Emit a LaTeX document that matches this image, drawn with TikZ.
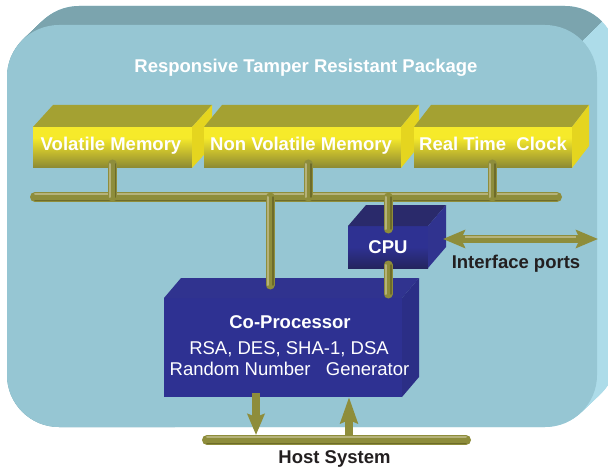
\documentclass[tikz,border=0pt]{standalone}
\usepackage{fontspec}
\setmainfont{Liberation Sans}
\usetikzlibrary{arrows.meta}
\definecolor{pkgfront}{HTML}{96C6D3}
\definecolor{pkgtop}{HTML}{7BA4AE}
\definecolor{pkgside}{HTML}{ADDCE9}
\definecolor{ybright}{HTML}{F6EA2A}
\definecolor{ymid}{HTML}{BDB42E}
\definecolor{yolive}{HTML}{8A8834}
\definecolor{ytop}{HTML}{A4A132}
\definecolor{yside}{HTML}{E5D51F}
\definecolor{bfront}{HTML}{2E3192}
\definecolor{bdark}{HTML}{24255F}
\definecolor{bcputop}{HTML}{2A2A6B}
\definecolor{bcpuside}{HTML}{30338F}
\definecolor{bcoptop}{HTML}{30338F}
\definecolor{bcopside}{HTML}{2B2E86}
\definecolor{barc}{HTML}{8E8D3B}
\definecolor{barhi}{HTML}{B5B27A}
\definecolor{bardk}{HTML}{6E6C2A}
\definecolor{txtdark}{HTML}{231F20}
\pgfdeclareverticalshading{yfront}{100bp}{color(0bp)=(yolive); color(25bp)=(yolive); color(42bp)=(ymid); color(62bp)=(ybright); color(100bp)=(ybright)}
\pgfdeclareverticalshading{cpufront}{100bp}{color(0bp)=(bdark); color(25bp)=(bdark); color(50bp)=(bfront); color(100bp)=(bfront)}
\tikzset{
  lbl/.style={text=white, font=\bfseries\fontsize{18.5}{22}\selectfont, inner sep=0pt, anchor=base},
  dlbl/.style={lbl, text=txtdark},
  rlbl/.style={lbl, font=\fontsize{18.5}{22}\selectfont},
  facebox/.style={inner sep=0pt, outer sep=0pt, draw=none},
  ybox/.style={facebox, shading=yfront},
  hbar/.style={draw=barc, line width=10pt, line cap=round,
    postaction={draw=bardk, line width=1.5pt, transform canvas={yshift=-3.6pt}},
    postaction={draw=barhi, line width=2pt, transform canvas={yshift=3pt}}},
  vbar/.style={draw=barc, line width=9pt, line cap=round,
    postaction={draw=bardk, line width=1.5pt, transform canvas={xshift=3.2pt}},
    postaction={draw=barhi, line width=2pt, transform canvas={xshift=-2.5pt}}},
  arrowbar/.style={draw=barc, line width=8pt},
}
\newcommand\threedfaces[5]{%
  \fill[#4] (#1.north west) -- ++(#2,-#3) -- ([shift={(#2,-#3)}]#1.north east) -- (#1.north east) -- cycle;
  \fill[#5] (#1.north east) -- ++(#2,-#3) -- ([shift={(#2,-#3)}]#1.south east) -- (#1.south east) -- cycle;}
\begin{document}
\begin{tikzpicture}[x=1pt,y=-1pt]
\useasboundingbox (0,0) rectangle (608,468);
\clip (0,0) rectangle (608,468);
\fill[white] (0,0) rectangle (608,468);
% package
\foreach \t in {0,...,20} \fill[pkgside, rounded corners=52pt] (7+\t, 25-0.95*\t) rectangle (597+\t, 427-0.95*\t);
\begin{scope}
  \clip (-10,-10) -- (635,-10) -- (77,520) -- (-10,520) -- cycle;
  \foreach \t in {0,...,20} \fill[pkgtop, rounded corners=52pt] (7+\t, 25-0.95*\t) rectangle (597+\t, 427-0.95*\t);
\end{scope}
\fill[pkgfront, rounded corners=52pt] (7,25) rectangle (597,427);
\node[lbl] (title) at (306,73) {Responsive Tamper Resistant Package};
% memory boxes
\node[ybox, minimum width=159pt, minimum height=41pt] (vm) at (112.5,147.5) {};
\threedfaces{vm}{20}{22}{ytop}{yside}
\node[ybox, minimum width=197pt, minimum height=41pt] (nvm) at (302.5,147.5) {};
\threedfaces{nvm}{18}{22}{ytop}{yside}
\node[ybox, minimum width=158pt, minimum height=41pt] (rtc) at (493,147.5) {};
\threedfaces{rtc}{17}{22}{ytop}{yside}
\node[lbl] (vmt) at (111,151) {Volatile Memory};
\node[lbl] (nvmt) at (301,151) {Non Volatile Memory};
\node[lbl] (rtct) at (493,151) {Real Time\ \ Clock};
% bus
\coordinate (busL) at (35,197);
\coordinate (busR) at (557,197);
\draw[hbar] (busL) -- (busR);
\draw[vbar] ([yshift=4pt]vm.south) -- (vm.south |- busL);
\draw[vbar] ([xshift=5.5pt,yshift=4pt]nvm.south) -- ([xshift=5.5pt]nvm.south |- busL);
\draw[vbar] ([xshift=-1pt,yshift=4pt]rtc.south) -- ([xshift=-1pt]rtc.south |- busL);
% CPU
\node[facebox, shading=cpufront, minimum width=80pt, minimum height=42pt] (cpu) at (388,247) {};
\threedfaces{cpu}{18}{21}{bcputop}{bcpuside}
\node[lbl] (cput) at (388,253) {CPU};
% Co-processor
\node[facebox, fill=bfront, minimum width=238pt, minimum height=99pt] (cop) at (283,347.5) {};
\threedfaces{cop}{17}{20}{bcoptop}{bcopside}
\node[lbl] (copt1) at (290,328) {Co-Processor};
\node[rlbl] (copt2) at (289,354) {RSA, DES, SHA-1, DSA};
\node[rlbl] (copt3) at (289.5,375) {Random Number\ \ \ Generator};
% connectors
\draw[vbar] (busL -| 270,0) -- (270,285);
\draw[vbar] (busL -| cpu.north) -- ([yshift=-3pt]cpu.north);
\draw[vbar] ([yshift=3pt]cpu.south) -- ([yshift=4pt]cop.north -| cpu.south);
% interface ports
\coordinate (ifL) at (443,239);
\coordinate (ifR) at (598,239);
\draw[arrowbar, {Stealth[length=22pt,width=18pt,inset=4pt]}-{Stealth[length=22pt,width=18pt,inset=4pt]}] (ifL) -- (ifR);
\draw[barhi, line width=2pt] ([shift={(22,-2)}]ifL) -- ([shift={(-22,-2)}]ifR);
\node[dlbl] (ifp) at (516,268) {Interface ports};
% host system
\coordinate (hsL) at (207,440);
\coordinate (hsR) at (466,440);
\coordinate (dtip) at (256,435);
\coordinate (ubase) at (349,440);
\draw[arrowbar, -{Stealth[length=21pt,width=17pt,inset=3pt]}] ([yshift=4pt]cop.south -| dtip) -- (dtip);
\draw[arrowbar, -{Stealth[length=26pt,width=17pt,inset=3pt]}] (ubase) -- (cop.south -| ubase);
\draw[hbar] (hsL) -- (hsR);
\node[dlbl] (host) at (334.5,463) {Host System};
\end{tikzpicture}
\end{document}
